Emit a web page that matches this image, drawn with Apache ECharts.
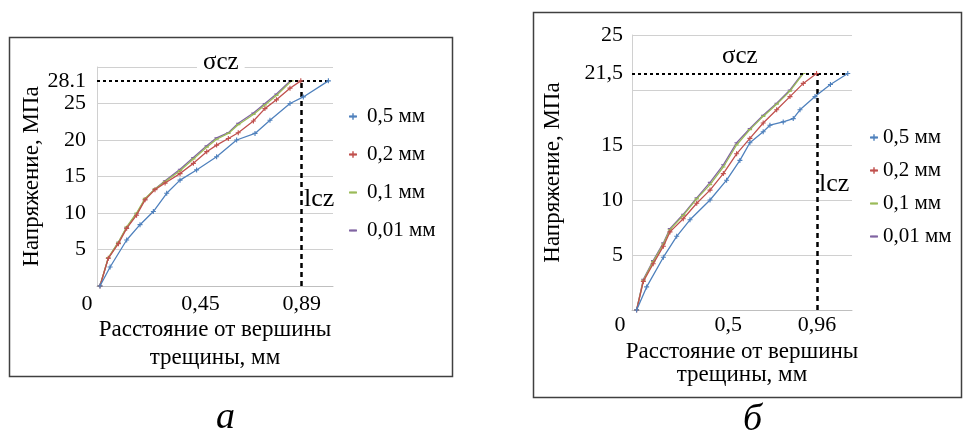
<!DOCTYPE html>
<html><head><meta charset="utf-8">
<script src="https://cdn.jsdelivr.net/npm/echarts@6/dist/echarts.min.js"></script>
<style>html,body{margin:0;padding:0;background:#fff}#c{width:964px;height:439px}</style>
</head><body><div id="c"></div>
<script>
// ---- Chart a ----
const seriesNames = ['0,5 мм', '0,2 мм', '0,1 мм', '0,01 мм'];
const xA_05 = [0.013,0.057,0.129,0.187,0.245,0.303,0.361,0.433,0.52,0.607,0.687,0.752,0.839,0.897,1.006];
const yA_05 = [0,2.6,6.3,8.4,10.2,12.7,14.5,15.9,17.7,20.0,20.9,22.7,25.0,25.9,28.1];
const xA_02 = [0.013,0.049,0.093,0.129,0.172,0.209,0.252,0.296,0.361,0.419,0.477,0.52,0.571,0.614,0.68,0.73,0.78,0.839,0.886];
const yA_02 = [0,3.8,5.8,7.9,9.7,11.8,13.2,14.1,15.4,16.8,18.4,19.3,20.2,21.0,22.6,24.3,25.5,27.1,28.1];
const xA_01 = [0.013,0.049,0.093,0.129,0.172,0.209,0.252,0.296,0.361,0.419,0.477,0.52,0.571,0.614,0.68,0.73,0.78,0.846];
const yA_01 = [0,3.9,6.0,8.1,10.0,12.0,13.3,14.3,15.8,17.4,19.0,20.1,20.9,22.1,23.5,24.8,26.1,28.1];
const xA_001 = [0.013,0.049,0.093,0.129,0.172,0.209,0.252,0.296,0.361,0.419,0.477,0.52,0.571,0.614,0.68,0.73,0.78,0.84];
const yA_001 = [0,3.8,6.0,8.0,9.9,11.9,13.3,14.4,16.0,17.6,19.2,20.3,21.0,22.3,23.7,25.0,26.3,28.1];
const xTicksA = [0, 0.45, 0.89];
const yTicksA = [5, 10, 15, 20, 25, 28.1];
const sigmaA = 28.1, lA = 0.89, lineEndA = 1.006;

// ---- Chart б ----
const xB_05 = [0.024,0.076,0.163,0.232,0.301,0.405,0.491,0.56,0.612,0.681,0.716,0.785,0.837,0.872,0.95,1.03,1.12];
const yB_05 = [0,2.1,4.8,6.7,8.2,10.0,11.8,13.6,15.2,16.2,16.8,17.1,17.4,18.2,19.4,20.5,21.5];
const xB_02 = [0.024,0.059,0.11,0.163,0.197,0.266,0.336,0.405,0.474,0.543,0.612,0.681,0.751,0.82,0.889,0.958];
const yB_02 = [0,2.6,4.2,5.8,7.1,8.3,9.7,10.9,12.4,14.2,15.6,17.0,18.2,19.4,20.6,21.5];
const xB_01 = [0.024,0.059,0.11,0.163,0.197,0.266,0.336,0.405,0.474,0.543,0.612,0.681,0.751,0.82,0.889];
const yB_01 = [0,2.7,4.4,6.0,7.3,8.6,10.1,11.4,13.0,15.0,16.4,17.6,18.7,19.9,21.5];
const xB_001 = [0.024,0.059,0.11,0.163,0.197,0.266,0.336,0.405,0.474,0.543,0.612,0.681,0.751,0.82,0.885];
const yB_001 = [0,2.8,4.5,6.1,7.4,8.7,10.2,11.6,13.2,15.2,16.5,17.7,18.8,20.0,21.5];
const xTicksB = [0, 0.5, 0.96];
const yTicksB = [5, 10, 15, 21.5, 25];
const sigmaB = 21.5, lB = 0.96, lineEndB = 1.12;

const colors = ['#4F81BD', '#C0504D', '#9BBB59', '#8064A2'];
const BOX = 'M0,0h0.1v0.1h-0.1zM7.9,7.9h0.1v0.1h-0.1z';
const PLUS = 'path://M3.1,0h1.8v8h-1.8zM0,3.1h8v1.8h-8z' + BOX;
const MINUS = 'path://M0.5,3.1h7v1.8h-7z' + BOX;
const symbols = [PLUS, PLUS, MINUS, MINUS];
const FONT = '"Liberation Serif", "Times New Roman", serif';
const comma = v => String(v).replace('.', ',');

function zip(xs, ys) { return xs.map((x, i) => [x, ys[i]]); }

function mkSeries(idx, xs, ys, gi, extra) {
  const s = {
    name: seriesNames[idx], type: 'line', xAxisIndex: gi, yAxisIndex: gi,
    data: zip(xs, ys), symbol: symbols[idx], symbolSize: 5,
    lineStyle: { color: colors[idx], width: 1.3 }, itemStyle: { color: colors[idx] },
    z: 3 + (3 - idx), animation: false
  };
  return Object.assign(s, extra || {});
}

function guideLines(sig, l, end) {
  return {
    markLine: {
      silent: true, symbol: 'none', label: { show: false }, animation: false,
      data: [
        [{ coord: [0, sig], lineStyle: { type: [3, 3], width: 2, color: '#000' } }, { coord: [end, sig] }],
        [{ coord: [l, 0], lineStyle: { type: [5, 4], width: 2.5, color: '#000' } }, { coord: [l, sig] }]
      ]
    }
  };
}

const axisLabelStyle = { fontFamily: FONT, fontSize: 22, color: '#000' };
const nameStyle = { fontFamily: FONT, fontSize: 23, color: '#000' };

const option = {
  animation: false,
  grid: [
    { left: 97, top: 67, width: 236, height: 219 },
    { left: 632, top: 35, width: 220, height: 275 }
  ],
  xAxis: [
    { type: 'value', gridIndex: 0, min: 0, max: 1.026,
      axisLine: { lineStyle: { color: '#bfbfbf' } }, axisTick: { show: false }, splitLine: { show: false },
      axisLabel: Object.assign({ customValues: xTicksA, margin: 7, formatter: v => v === 0 ? '{z|0}' : comma(v),
        rich: { z: { fontFamily: FONT, fontSize: 22, color: '#000', padding: [0, 20, 0, 0] } } }, axisLabelStyle),
      name: 'Расстояние от вершины\nтрещины, мм', nameLocation: 'middle', nameGap: 27,
      nameTextStyle: Object.assign({ lineHeight: 28 }, nameStyle) },
    { type: 'value', gridIndex: 1, min: 0, max: 1.142,
      axisLine: { lineStyle: { color: '#bfbfbf' } }, axisTick: { show: false }, splitLine: { show: false },
      axisLabel: Object.assign({ customValues: xTicksB, margin: 4, formatter: v => v === 0 ? '{z|0}' : comma(v),
        rich: { z: { fontFamily: FONT, fontSize: 22, color: '#000', padding: [0, 24, 0, 0] } } }, axisLabelStyle),
      name: 'Расстояние от вершины\nтрещины, мм', nameLocation: 'middle', nameGap: 26,
      nameTextStyle: Object.assign({ lineHeight: 23 }, nameStyle) }
  ],
  yAxis: [
    { type: 'value', gridIndex: 0, min: 0, max: 30, interval: 5,
      axisLine: { show: true, lineStyle: { color: '#d0d0d0' } }, axisTick: { show: false },
      splitLine: { lineStyle: { color: '#d0d0d0' } },
      axisLabel: Object.assign({ customValues: yTicksA, margin: 11, formatter: v => String(v) }, axisLabelStyle),
      name: 'Напряжение, МПа', nameLocation: 'middle', nameGap: 52, nameTextStyle: nameStyle },
    { type: 'value', gridIndex: 1, min: 0, max: 25, interval: 5,
      axisLine: { show: true, lineStyle: { color: '#d0d0d0' } }, axisTick: { show: false },
      splitLine: { lineStyle: { color: '#d0d0d0' } },
      axisLabel: Object.assign({ customValues: yTicksB, margin: 9, formatter: v => comma(v) }, axisLabelStyle),
      name: 'Напряжение, МПа', nameLocation: 'middle', nameGap: 68, nameTextStyle: nameStyle }
  ],
  legend: [
    { orient: 'vertical', left: 343, top: 101, itemGap: 17, itemWidth: 8, itemHeight: 8,
      textStyle: { fontFamily: FONT, fontSize: 21, color: '#000', padding: [0, 0, 0, 5] }, data: seriesNames, selectedMode: false },
    { orient: 'vertical', left: 864, top: 122, itemGap: 12, itemWidth: 8, itemHeight: 8,
      textStyle: { fontFamily: FONT, fontSize: 21, color: '#000', padding: [0, 0, 0, 0] }, data: seriesNames, selectedMode: false }
  ],
  series: [
    mkSeries(0, xA_05, yA_05, 0, guideLines(sigmaA, lA, lineEndA)),
    mkSeries(1, xA_02, yA_02, 0),
    mkSeries(2, xA_01, yA_01, 0),
    mkSeries(3, xA_001, yA_001, 0),
    mkSeries(0, xB_05, yB_05, 1, guideLines(sigmaB, lB, lineEndB)),
    mkSeries(1, xB_02, yB_02, 1),
    mkSeries(2, xB_01, yB_01, 1),
    mkSeries(3, xB_001, yB_001, 1)
  ],
  graphic: [
    { type: 'rect', shape: { x: 9.5, y: 37.5, width: 443, height: 339 }, style: { fill: 'none', stroke: '#404040', lineWidth: 1.5 }, z: 0 },
    { type: 'rect', shape: { x: 533.5, y: 12.5, width: 428, height: 385 }, style: { fill: 'none', stroke: '#404040', lineWidth: 1.5 }, z: 0 },
    { type: 'text', left: 197, top: 50, z: 10, style: { text: 'σcz', font: '25px ' + FONT, fill: '#000', backgroundColor: '#fff', padding: [0, 6] } },
    { type: 'text', left: 722, top: 44, z: 10, style: { text: 'σcz', font: '25px ' + FONT, fill: '#000' } },
    { type: 'text', left: 304, top: 186, z: 10, style: { text: 'lcz', font: '26px ' + FONT, fill: '#000' } },
    { type: 'text', left: 819, top: 171, z: 10, style: { text: 'lcz', font: '26px ' + FONT, fill: '#000' } },
    { type: 'text', left: 216, top: 399, style: { text: 'a', font: 'italic 38px ' + FONT, fill: '#000' } },
    { type: 'text', left: 743, top: 401, style: { text: 'б', font: 'italic 38px ' + FONT, fill: '#000' } }
  ]
};
echarts.init(document.getElementById('c')).setOption(option);
</script>
</body></html>
